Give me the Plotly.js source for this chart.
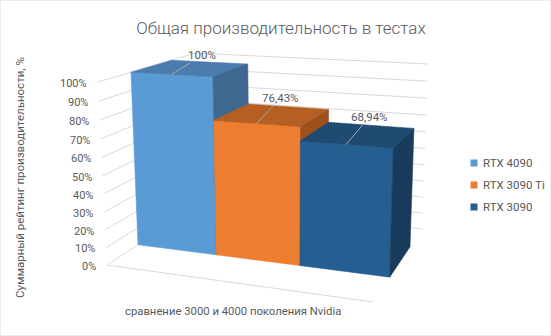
<!DOCTYPE html>
<html>
<head>
<meta charset="utf-8">
<script src="https://cdn.plot.ly/plotly-3.0.1.min.js"></script>
<style>html,body{margin:0;padding:0;background:#fff;}#chart{width:551px;height:336px;}</style>
</head>
<body>
<div id="chart"></div>
<script>
// ---- data ----
const categories = ['RTX 4090', 'RTX 3090 Ti', 'RTX 3090'];
const values = [100, 76.43, 68.94];
const valueLabels = ['100%', '76,43%', '68,94%'];
const tickValues = [0, 10, 20, 30, 40, 50, 60, 70, 80, 90, 100];
const tickLabels = ['0%', '10%', '20%', '30%', '40%', '50%', '60%', '70%', '80%', '90%', '100%'];
const titleText = 'Общая производительность в тестах';
const yTitleText = 'Суммарный рейтинг производительности, %';
const xTitleText = 'сравнение 3000 и 4000 поколения Nvidia';

// ---- style ----
const frontColors = ['#5B9BD5', '#ED7D31', '#255E91'];
const topColors = ['#4A7DAD', '#B65F22', '#1F4A72'];
const sideColors = ['#3F6890', '#9C511C', '#183B5C'];
const textColor = '#595959';
const gridColor = '#d9d9d9';
const FONT = 'Roboto, "Open Sans", sans-serif';

// ---- 3D perspective camera (X: category slot, Y: value fraction, Z: depth 0 front..1 back) ----
const cam = {
  u0: 107, v0: 265,
  ax: 75.98, ay: -13.658, az: 135.28,
  bx: 2.065, by: -186.90, bz: -16.03,
  wx: -0.034, wy: -0.04753, wz: 0.2163
};
const ZF = 0.294, ZB = 0.713, YMAX = 100;
function proj(X, val, Z) {
  const Y = val / YMAX;
  const w = 1 + cam.wx * X + cam.wy * Y + cam.wz * Z;
  const u = cam.u0 + cam.ax * X + cam.ay * Y + cam.az * Z;
  const v = cam.v0 + cam.bx * X + cam.by * Y + cam.bz * Z;
  return [u / w, v / w];
}
const N = categories.length;

const traces = [];
// gridlines on left wall and back wall
const gx = [], gy = [];
tickValues.forEach(t => {
  [proj(0, t, 0), proj(0, t, 1), proj(N, t, 1)].forEach(p => { gx.push(p[0]); gy.push(p[1]); });
  gx.push(null); gy.push(null);
});
// floor front edge (category axis line)
[proj(0, 0, 0), proj(N, 0, 0)].forEach(p => { gx.push(p[0]); gy.push(p[1]); });
traces.push({x: gx, y: gy, mode: 'lines', line: {color: gridColor, width: 1}, hoverinfo: 'skip', showlegend: false});

function face(pts, color) {
  const xs = pts.map(p => p[0]), ys = pts.map(p => p[1]);
  xs.push(xs[0]); ys.push(ys[0]);
  return {x: xs, y: ys, mode: 'lines', fill: 'toself', fillcolor: color,
          line: {color: color, width: 0.6}, hoverinfo: 'skip', showlegend: false};
}
values.forEach((val, i) => {
  const x0 = i, x1 = i + 1;
  traces.push(face([proj(x0, 0, ZF), proj(x1, 0, ZF), proj(x1, val, ZF), proj(x0, val, ZF)], frontColors[i]));
  traces.push(face([proj(x0, val, ZF), proj(x1, val, ZF), proj(x1, val, ZB), proj(x0, val, ZB)], topColors[i]));
  traces.push(face([proj(x1, 0, ZF), proj(x1, 0, ZB), proj(x1, val, ZB), proj(x1, val, ZF)], sideColors[i]));
});

const annotations = [];
// tick labels
tickValues.forEach((t, k) => {
  const p = proj(0, t, 0);
  annotations.push({x: p[0], y: p[1], xref: 'x', yref: 'y', text: tickLabels[k], showarrow: false,
    xanchor: 'right', yanchor: 'middle', xshift: -9, yshift: -1.5,
    font: {family: FONT, size: 11, color: textColor}});
});
// data labels with leader lines
const labelOffsets = [[31, -19], [24, -25], [23, -27]];
values.forEach((val, i) => {
  const p = proj(i + 0.5, val, ZF);
  annotations.push({x: p[0], y: p[1], xref: 'x', yref: 'y', text: valueLabels[i], showarrow: true,
    arrowhead: 0, arrowwidth: 1, arrowcolor: '#a6a6a6', ax: labelOffsets[i][0], ay: labelOffsets[i][1],
    standoff: 0, borderpad: 0,
    font: {family: FONT, size: 11.5, color: textColor}});
});
// axis titles
annotations.push({x: 20, y: 178, xref: 'x', yref: 'y', text: yTitleText, textangle: -90, showarrow: false,
  font: {family: FONT, size: 11.5, color: textColor}});
annotations.push({x: 233, y: 311, xref: 'x', yref: 'y', text: xTitleText, showarrow: false,
  font: {family: FONT, size: 11.3, color: textColor}});

// legend (drawn as marker + label)
const legendX = 474, legendY0 = 163, legendStep = 22;
categories.forEach((c, i) => {
  traces.push({x: [legendX], y: [legendY0 + i * legendStep], mode: 'markers',
    marker: {symbol: 'square', size: 7, color: frontColors[i]}, hoverinfo: 'skip', showlegend: false});
  annotations.push({x: legendX + 7, y: legendY0 + i * legendStep, xref: 'x', yref: 'y', text: c,
    showarrow: false, xanchor: 'left', yanchor: 'middle',
    font: {family: FONT, size: 11.5, color: textColor}});
});

const layout = {
  width: 551, height: 336,
  margin: {l: 0, r: 0, t: 0, b: 0},
  paper_bgcolor: '#ffffff', plot_bgcolor: '#ffffff',
  title: {text: titleText, x: 0.51, xanchor: 'center', y: 0.917, yanchor: 'middle',
          font: {family: FONT, size: 17, weight: 300, color: textColor}},
  xaxis: {range: [0, 551], visible: false, fixedrange: true},
  yaxis: {range: [336, 0], visible: false, fixedrange: true},
  showlegend: false,
  annotations: annotations,
  shapes: [{type: 'rect', xref: 'paper', yref: 'paper', x0: 0, y0: 0, x1: 1, y1: 1,
            line: {color: '#d9d9d9', width: 1}}]
};
Plotly.newPlot('chart', traces, layout, {staticPlot: true, displayModeBar: false});
</script>
</body>
</html>
